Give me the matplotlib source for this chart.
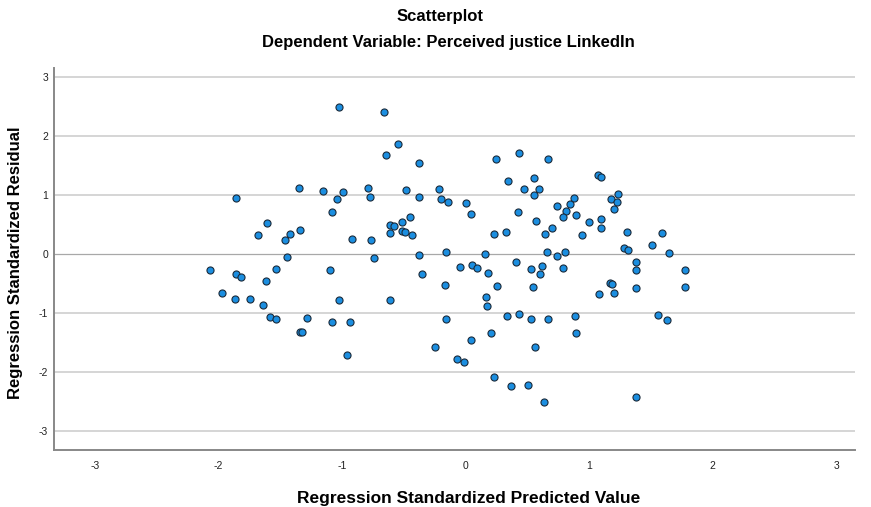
import numpy as np
import matplotlib
matplotlib.use("Agg")
import matplotlib.pyplot as plt

plt.rcParams['font.family'] = ['Liberation Sans', 'DejaVu Sans']
plt.rcParams['axes.unicode_minus'] = False

# regression standardized predicted value (x) and residual (y)
pred = [-1.022, -1.351, -1.861, -1.156, -1.040, -0.992, -0.789, -0.776, -1.083, -1.610,
        -1.678, -1.424, -1.462, -1.343, -0.919, -0.765, -1.443, -0.743,
        -2.071, -1.856, -1.820, -1.534, -1.618, -1.100, -1.972, -1.869, -1.742, -1.637,
        -1.027, -1.583, -1.534, -1.286, -1.083, -0.935, -1.340, -1.325, -0.962,
        -0.660, -0.544, -0.644, -0.377, 0.244, 0.430, 0.665, -0.479, -0.374,
        -0.217, -0.201, -0.142, 0.006, 0.047, 0.341, 0.471, 0.555, 0.598, 0.552,
        0.422, 0.568, 0.738, -0.614, -0.581, -0.514, -0.452, -0.611, -0.514, -0.492,
        -0.431, -0.377, -0.158, 0.155, 0.228, 0.330, 0.644, 0.698, 0.660, 0.738, 0.406,
        -0.045, 0.050, 0.090, -0.350, 0.185, 0.530, 0.619, 0.603, -0.163, 0.258,
        0.547, 0.166, 0.171, -0.611, -0.160, 0.333, 0.436, 0.528, 0.665, 0.047,
        0.206, 0.565, -0.249, -0.066, -0.010, 0.233, 0.368, 0.506, 0.636,
        1.070, 1.095, 0.849, 0.881, 0.816, 0.789, 0.892, 1.000, 0.941, 1.095,
        1.097, 1.176, 1.232, 1.224, 1.200, 1.308, 1.594, 1.513, 1.283, 1.318,
        1.648, 0.803, 1.381,
        1.381, 0.789, 1.780, 1.170, 1.189, 1.078, 1.202, 1.381, 1.780, 0.887,
        0.895, 1.561, 1.634, 1.378]
resid = [2.502, 1.129, 0.954, 1.073, 0.942, 1.050, 1.118, 0.965, 0.711, 0.536,
         0.327, 0.350, 0.248, 0.412, 0.259, 0.242, -0.051, -0.068,
         -0.260, -0.339, -0.379, -0.249, -0.447, -0.272, -0.650, -0.757, -0.752, -0.854,
         -0.775, -1.057, -1.102, -1.080, -1.142, -1.147, -1.312, -1.322, -1.702,
         2.412, 1.869, 1.683, 1.553, 1.615, 1.717, 1.615, 1.090, 0.976,
         1.101, 0.937, 0.881, 0.869, 0.683, 1.237, 1.101, 1.293, 1.112, 1.010,
         0.722, 0.569, 0.824, 0.502, 0.480, 0.553, 0.632, 0.366, 0.400, 0.378,
         0.322, -0.017, 0.034, 0.000, 0.350, 0.384, 0.344, 0.446, 0.045, -0.034, -0.125,
         -0.220, -0.181, -0.227, -0.339, -0.317, -0.249, -0.198, -0.328, -0.525, -0.542,
         -0.548, -0.724, -0.876, -0.775, -1.102, -1.046, -1.006, -1.102, -1.102, -1.458,
         -1.340, -1.571, -1.577, -1.769, -1.831, -2.080, -2.227, -2.220, -2.503,
         1.339, 1.310, 0.853, 0.960, 0.740, 0.627, 0.661, 0.547, 0.327, 0.598,
         0.451, 0.937, 1.022, 0.886, 0.768, 0.373, 0.361, 0.163, 0.112, 0.073,
         0.017, 0.034, -0.131,
         -0.272, -0.232, -0.266, -0.486, -0.503, -0.673, -0.661, -0.565, -0.548, -1.051,
         -1.340, -1.034, -1.113, -2.413]

ticks = [-3, -2, -1, 0, 1, 2, 3]

fig = plt.figure(figsize=(8.71, 5.07), dpi=100)
ax = fig.add_axes([0.0623, 0.1124, 0.9193, 0.7535])

for t in ticks:
    if t == 0:
        ax.axhline(t, color='#a8a8a8', lw=0.9, zorder=1)
    else:
        ax.axhline(t, color='#d2d2d2', lw=1.3, zorder=1)

ax.scatter(pred, resid, s=26, c='#1b8ee0', edgecolors='#1a2a3a', linewidths=0.8, zorder=3)

ax.set_xlim(-3.33, 3.153)
ax.set_ylim(-3.317, 3.158)
ax.set_xticks(ticks)
ax.set_yticks(ticks)
ax.tick_params(length=0, labelsize=7.5, colors='#222222')
ax.tick_params(axis='y', pad=4.5)
ax.tick_params(axis='x', pad=8)
for s in ['top', 'right']:
    ax.spines[s].set_visible(False)
for s in ['left', 'bottom']:
    ax.spines[s].set_color('#888888')
    ax.spines[s].set_linewidth(1.4)

fig.text(440 / 871, 1 - 20.5 / 507, 'Scatterplot', ha='center', va='baseline',
         fontsize=12, fontweight='bold')
fig.text(448 / 871, 1 - 46.5 / 507, 'Dependent Variable: Perceived justice LinkedIn',
         ha='center', va='baseline', fontsize=12, fontweight='bold')
fig.text(469 / 871, 1 - 503 / 507, 'Regression Standardized Predicted Value',
         ha='center', va='baseline', fontsize=12.5, fontweight='bold')
fig.text(16 / 871, 1 - 263 / 507, 'Regression Standardized Residual', ha='center',
         va='center', rotation=90, fontsize=12, fontweight='bold')

fig.savefig('out.png', dpi=100)
